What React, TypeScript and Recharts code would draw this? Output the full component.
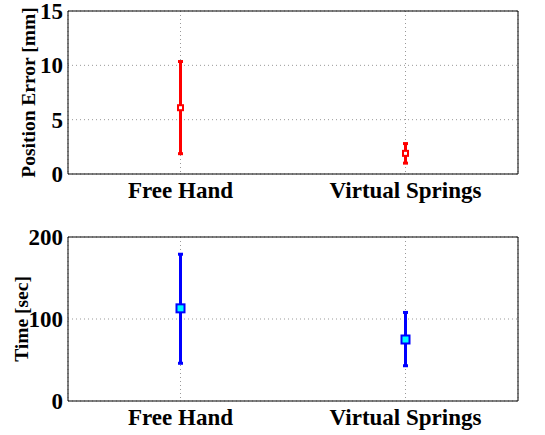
import React from 'react';
import { ScatterChart, Scatter, XAxis, YAxis, CartesianGrid, ErrorBar } from 'recharts';

// groups on the x axis
const groups = ['Free Hand', 'Virtual Springs'];
const groupPos = [1, 2];

// position error [mm]: mean, min, max
const errMean = [6.1, 1.9];
const errLow = [1.87, 1.0];
const errHigh = [10.35, 2.8];
const errTicks = [0, 5, 10, 15];

// time [sec]: mean, min, max
const timeMean = [113, 75];
const timeLow = [46, 43];
const timeHigh = [179, 108];
const timeTicks = [0, 100, 200];

const font = '"Liberation Serif", "Times New Roman", serif';

const buildRows = (mean: number[], low: number[], high: number[]) =>
  groupPos.map((x, i) => ({ x, mean: mean[i], err: [mean[i] - low[i], high[i] - mean[i]] }));

interface PanelProps {
  rows: { x: number; mean: number; err: number[] }[];
  ticks: number[];
  label: string;
  labelX: number;
  height: number;
  top: number;
  xHeight: number;
  color: string;
  fill: string;
  box: number;
  lineW: number;
}

const Panel: React.FC<PanelProps> = ({ rows, ticks, label, labelX, height, top, xHeight, color, fill, box, lineW }) => {
  const domain = [ticks[0], ticks[ticks.length - 1]];
  const tickStyle = { fill: '#000', fontSize: 23, fontWeight: 'bold', fontFamily: font };
  const square = (p: any) => (
    <rect
      x={p.cx - box / 2}
      y={p.cy - box / 2}
      width={box}
      height={box}
      fill={fill}
      stroke={color}
      strokeWidth={2}
    />
  );
  return (
    <ScatterChart width={545} height={height} margin={{ top, right: 27, bottom: 0, left: 0 }}>
      <CartesianGrid stroke="#999" strokeDasharray="1 3" />
      <XAxis
        type="number"
        dataKey="x"
        domain={[0.5, 2.5]}
        ticks={groupPos}
        tickFormatter={(v: number) => groups[groupPos.indexOf(v)] ?? ''}
        height={xHeight}
        tickLine={false}
        tickSize={0}
        tickMargin={8}
        axisLine={{ stroke: '#000' }}
        tick={tickStyle}
        interval={0}
      />
      <XAxis xAxisId="b" type="number" domain={[0.5, 2.5]} ticks={groupPos} mirror tick={false} tickSize={5} axisLine={false} tickLine={{ stroke: '#000' }} />
      <XAxis xAxisId="t" orientation="top" type="number" domain={[0.5, 2.5]} ticks={groupPos} mirror tick={false} tickSize={5} axisLine={{ stroke: '#000' }} tickLine={{ stroke: '#000' }} />
      <YAxis
        type="number"
        dataKey="mean"
        domain={domain}
        ticks={ticks}
        width={68}
        tickLine={false}
        tickSize={0}
        tickMargin={5}
        axisLine={{ stroke: '#000' }}
        tick={tickStyle}
        interval={0}
        label={(p: any) => {
          const vb = p.viewBox;
          const cy = vb.y + vb.height / 2;
          return (
            <text
              x={labelX}
              y={cy}
              transform={`rotate(-90 ${labelX} ${cy})`}
              textAnchor="middle"
              dominantBaseline="central"
              fontFamily={font}
              fontWeight="bold"
              fontSize={19.5}
              fill="#000"
            >
              {label}
            </text>
          );
        }}
      />
      <YAxis yAxisId="l" type="number" domain={domain} ticks={ticks} mirror tick={false} tickSize={5} axisLine={false} tickLine={{ stroke: '#000' }} />
      <YAxis yAxisId="r" orientation="right" type="number" domain={domain} ticks={ticks} mirror tick={false} tickSize={5} axisLine={{ stroke: '#000' }} tickLine={{ stroke: '#000' }} />
      <Scatter data={rows} dataKey="mean" shape={square} isAnimationActive={false}>
        <ErrorBar dataKey="err" direction="y" width={2.5} stroke={color} strokeWidth={lineW} isAnimationActive={false} />
      </Scatter>
    </ScatterChart>
  );
};

export default function App() {
  return (
    <div style={{ position: 'absolute', left: 0, top: 0, width: 545, height: 435, background: '#fff' }}>
      <Panel
        rows={buildRows(errMean, errLow, errHigh)}
        ticks={errTicks}
        label="Position Error [mm]"
        labelX={28}
        height={220}
        top={11}
        xHeight={46}
        color="#ff0000"
        fill="#ffffff"
        box={5}
        lineW={3}
      />
      <Panel
        rows={buildRows(timeMean, timeLow, timeHigh)}
        ticks={timeTicks}
        label="Time [sec]"
        labelX={21}
        height={215}
        top={17}
        xHeight={34}
        color="#0000ff"
        fill="#00ffff"
        box={8}
        lineW={3}
      />
    </div>
  );
}
